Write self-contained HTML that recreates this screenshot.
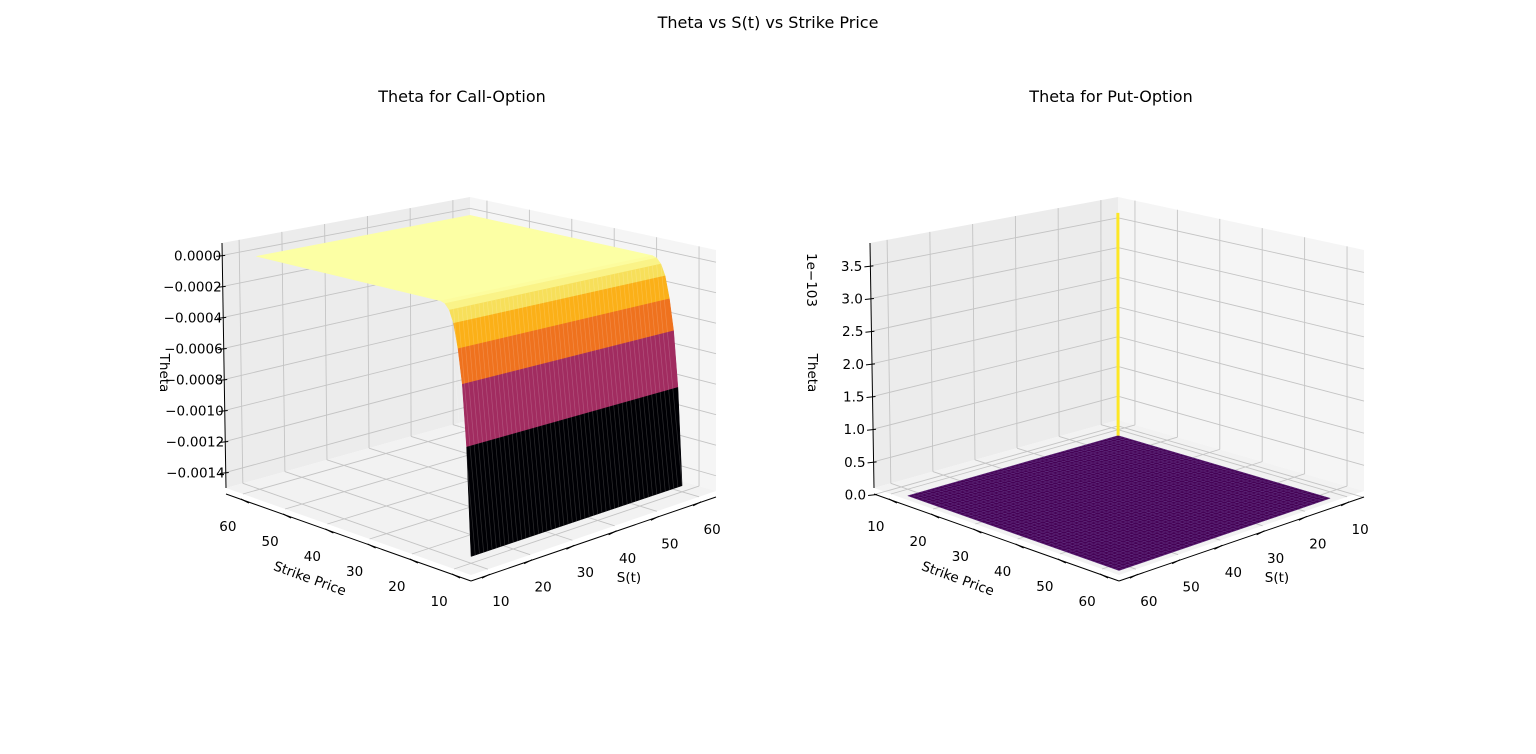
<!DOCTYPE html>
<html><head><meta charset="utf-8"><style>
html,body{margin:0;padding:0;background:#fff;}
svg{display:block;font-family:"DejaVu Sans","Liberation Sans",sans-serif;}
</style></head><body>
<svg id="fig" width="1536" height="754" viewBox="0 0 1536 754" xmlns="http://www.w3.org/2000/svg">
<rect width="1536" height="754" fill="#fff"/>
<text x="768" y="28" font-size="16" text-anchor="middle">Theta vs S(t) vs Strike Price</text>
<text x="462" y="102" font-size="16" text-anchor="middle">Theta for Call-Option</text>
<text x="1111" y="102" font-size="16" text-anchor="middle">Theta for Put-Option</text>
<g id="left"></g>
<g id="right"></g>
</svg>
<script>
// ---- data ----
const spotTicks = [10,20,30,40,50,60];
const strikeTicks = [10,20,30,40,50,60];
const callZTicks = [0,-0.0002,-0.0004,-0.0006,-0.0008,-0.0010,-0.0012,-0.0014];
const callZLabels = ["0.0000","\u22120.0002","\u22120.0004","\u22120.0006","\u22120.0008","\u22120.0010","\u22120.0012","\u22120.0014"];
const putZTicks = [0,0.5,1.0,1.5,2.0,2.5,3.0,3.5];
const putZLabels = ["0.0","0.5","1.0","1.5","2.0","2.5","3.0","3.5"];
const gridStrikes = [10,11,12,13,14,15,16,17,60];
const callThetaByStrike = [-0.00146,-0.000825,-0.000462,-0.000259,-0.000115,-0.000043,-0.00001,0,0];
const gridSpots = [];
for (let s=10;s<=60;s++) gridSpots.push(s);
const putPeakSpot = [10];
const putPeakStrike = [10];
const putPeakTheta = [3.7];

const NS="http://www.w3.org/2000/svg";
function mk(tag, attrs, parent){const e=document.createElementNS(NS,tag);for(const k in attrs)e.setAttribute(k,attrs[k]);parent.appendChild(e);return e;}
const inferno=[[0,"#000004"],[0.1,"#160b39"],[0.2,"#420a68"],[0.3,"#6a176e"],[0.4,"#932667"],[0.5,"#bc3754"],[0.6,"#dd513a"],[0.7,"#f37819"],[0.8,"#fca50a"],[0.9,"#f6d746"],[1,"#fcffa4"]];
function hex(c){return [1,3,5].map(i=>parseInt(c.substr(i,2),16));}
function cmap(t){t=Math.max(0,Math.min(1,t));for(let i=1;i<inferno.length;i++){if(t<=inferno[i][0]){const a=inferno[i-1],b=inferno[i];const f=(t-a[0])/(b[0]-a[0]);const A=hex(a[1]),B=hex(b[1]);return "rgb("+A.map((v,j)=>Math.round(v+(B[j]-v)*f)).join(",")+")";}}return inferno[inferno.length-1][1];}

function makePlot(g, dx, opt){
  const F00=[471+dx,575],F01=[226+dx,488],F10=[716+dx,491],F11=[470+dx,420];
  const T00=[471+dx,302],T01=[222+dx,243],T10=[716+dx,250],T11=[470+dx,197];
  function bil(a,b,c,d,u,v){return [a[0]*(1-u)*(1-v)+c[0]*u*(1-v)+b[0]*(1-u)*v+d[0]*u*v, a[1]*(1-u)*(1-v)+c[1]*u*(1-v)+b[1]*(1-u)*v+d[1]*u*v];}
  function P(u,v,w){const f=bil(F00,F01,F10,F11,u,v),t=bil(T00,T01,T10,T11,u,v);return [f[0]*(1-w)+t[0]*w,f[1]*(1-w)+t[1]*w];}
  const U=opt.u,V=opt.v,W=opt.w;
  function pt(s,k,z){return P(U(s),V(k),W(z));}
  function pts(arr){return arr.map(p=>p[0].toFixed(1)+","+p[1].toFixed(1)).join(" ");}
  const paneL=mk("polygon",{points:pts([P(0,1,0),P(1,1,0),P(1,1,1),P(0,1,1)]),fill:"#ececec"},g);
  
  
  const paneR=mk("polygon",{points:pts([P(1,0,0),P(1,1,0),P(1,1,1),P(1,0,1)]),fill:"#f5f5f5"},g);
  
  
  const floor=mk("polygon",{points:pts([P(0,0,0),P(1,0,0),P(1,1,0),P(0,1,0)]),fill:"#f2f2f2"},g);
  
  
  const gs={stroke:"#c4c4c4","stroke-width":0.9,fill:"none"};
  function line(a,b,at){const l=mk("line",Object.assign({x1:a[0],y1:a[1],x2:b[0],y2:b[1]},at),g);return l;}
  spotTicks.forEach(s=>{const u=U(s);
    const l1=line(P(u,0,0),P(u,1,0),gs);
    const l2=line(P(u,1,0),P(u,1,1),gs);});
  strikeTicks.forEach(k=>{const v=V(k);
    const l1=line(P(0,v,0),P(1,v,0),gs);
    const l2=line(P(1,v,0),P(1,v,1),gs);});
  opt.zTicks.forEach((z,i)=>{const w=W(z);
    const l1=line(P(0,1,w),P(1,1,w),gs);
    const l2=line(P(1,1,w),P(1,0,w),gs);
    const a=P(0,1,w);
    const tk=line([a[0]-6,a[1]+1],[a[0]+3,a[1]],{stroke:"#000","stroke-width":1});
    
    const t=mk("text",{x:a[0]+opt.labelDx,y:a[1]+5,"font-size":13.5,"text-anchor":"end"},g);t.textContent=opt.zLabels[i];
    });
  const ax=(a,b)=>{const l=line([a[0],a[1]+6],[b[0],b[1]+6],{stroke:"#000","stroke-width":1});return l;};
  const za=line(P(0,1,0),P(0,1,1),{stroke:"#000","stroke-width":1});
  const ka=ax(P(0,0,0),P(0,1,0));
  const sa=ax(P(0,0,0),P(1,0,0));
  strikeTicks.forEach(k=>{const a=P(0,V(k),0);
    const tk=line([a[0]-2,a[1]+5],[a[0]+6,a[1]+9],{stroke:"#000","stroke-width":1});
    const t=mk("text",{x:a[0]-15,y:a[1]+37,"font-size":13.5,"text-anchor":"middle"},g);t.textContent=k;
    });
  spotTicks.forEach(s=>{const a=P(U(s),0,0);
    const tk=line([a[0]+2,a[1]+5],[a[0]-6,a[1]+9],{stroke:"#000","stroke-width":1});
    const t=mk("text",{x:a[0]+13,y:a[1]+37,"font-size":13.5,"text-anchor":"middle"},g);t.textContent=s;
    });
  const kt=mk("text",{x:310+dx,y:583,"font-size":13.5,"text-anchor":"middle",transform:"rotate(20 "+(310+dx)+" 578)"},g);kt.textContent="Strike Price";
  
  const st=mk("text",{x:629+dx,y:582,"font-size":13.5,"text-anchor":"middle"},g);st.textContent="S(t)";
  
  const zt=mk("text",{x:0,y:0,"font-size":13.5,"text-anchor":"middle",transform:"translate("+(160+dx)+",373) rotate(90)"},g);zt.textContent="Theta";
  
  return {pt,pts,line};
}

// ---- left plot ----
const gl=document.getElementById("left");
const zMinC=-0.0015,zMaxC=0.00008;
const L=makePlot(gl,0,{u:s=>(s-6)/58,v:k=>(k-6)/58,w:z=>(z-zMinC)/(zMaxC-zMinC),zTicks:callZTicks,zLabels:callZLabels,labelDx:-1});
const cMin=Math.min(...callThetaByStrike),cMax=Math.max(...callThetaByStrike);
const s0=gridSpots[0],s1=gridSpots[gridSpots.length-1];
for(let i=gridStrikes.length-1;i>0;i--){
  const kA=gridStrikes[i],kB=gridStrikes[i-1],zA=callThetaByStrike[i],zB=callThetaByStrike[i-1];
  const col=cmap((Math.min(zA,zB)-cMin)/(cMax-cMin));
  const p=mk("polygon",{points:L.pts([L.pt(s0,kA,zA),L.pt(s1,kA,zA),L.pt(s1,kB,zB),L.pt(s0,kB,zB)]),fill:col,stroke:col,"stroke-width":0.5},gl);
  
  
}
gridSpots.forEach(s=>{
  const a=L.pt(s,gridStrikes[0],callThetaByStrike[0]),b=L.pt(s,gridStrikes[5],callThetaByStrike[5]);
  const l=L.line(a,b,{stroke:"rgba(255,255,255,0.18)","stroke-width":0.7});
  
  
});

// ---- right plot ----
const gr=document.getElementById("right");
const zMinP=0.1,zMaxP=3.85;
const R=makePlot(gr,648,{u:s=>(64-s)/58,v:k=>(64-k)/58,w:z=>(z-zMinP)/(zMaxP-zMinP),zTicks:putZTicks,zLabels:putZLabels,labelDx:-8});
const surf=mk("polygon",{points:R.pts([R.pt(10,10,0),R.pt(60,10,0),R.pt(60,60,0),R.pt(10,60,0)]),fill:"#440154"},gr);


gridSpots.forEach(s=>{
  const l=R.line(R.pt(s,10,0),R.pt(s,60,0),{stroke:"#5e2a7a","stroke-width":0.6});
  
  
  const m=R.line(R.pt(10,s,0),R.pt(60,s,0),{stroke:"#5e2a7a","stroke-width":0.6});
  
  
});
putPeakTheta.forEach((z,i)=>{
  const a=R.pt(putPeakSpot[i],putPeakStrike[i],0),b=R.pt(putPeakSpot[i],putPeakStrike[i],z);
  const l=R.line(a,b,{stroke:"#fde725","stroke-width":3});
  
  
});
const off=mk("text",{x:0,y:0,"font-size":13.5,"text-anchor":"middle",transform:"translate(807,280) rotate(90)"},gr);
off.textContent="1e\u2212103";


</script>
</body></html>
